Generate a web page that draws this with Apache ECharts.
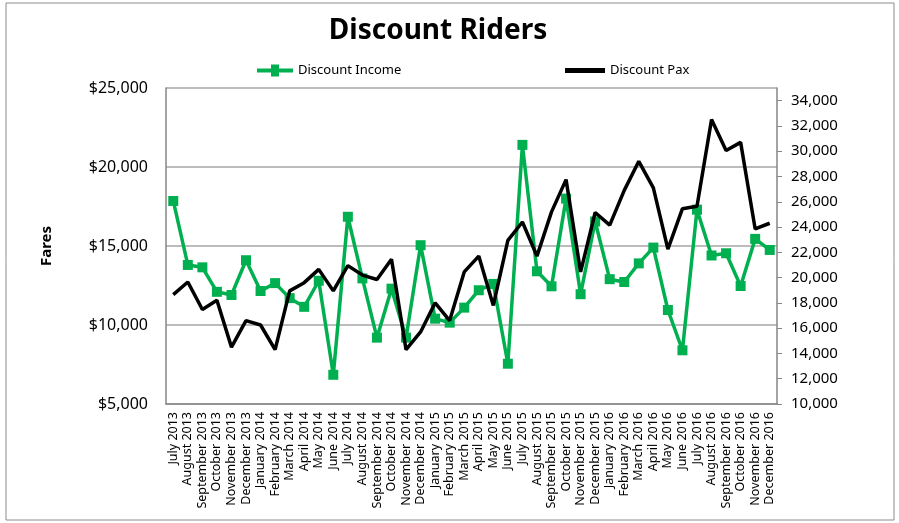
<!DOCTYPE html>
<html>
<head>
<meta charset="utf-8">
<script src="https://cdn.jsdelivr.net/npm/echarts@6/dist/echarts.min.js"></script>
<style>
  html, body { margin: 0; padding: 0; background: #fff; }
  #chart { width: 899px; height: 523px; }
</style>
</head>
<body>
<div id="chart"></div>
<script>
var months = [
    "July 2013", "August 2013", "September 2013", "October 2013", "November 2013", "December 2013",
    "January 2014", "February 2014", "March 2014", "April 2014", "May 2014", "June 2014",
    "July 2014", "August 2014", "September 2014", "October 2014", "November 2014", "December 2014",
    "January 2015", "February 2015", "March 2015", "April 2015", "May 2015", "June 2015",
    "July 2015", "August 2015", "September 2015", "October 2015", "November 2015", "December 2015",
    "January 2016", "February 2016", "March 2016", "April 2016", "May 2016", "June 2016",
    "July 2016", "August 2016", "September 2016", "October 2016", "November 2016", "December 2016"
];

// Discount Income (left axis, $)
var discountIncome = [
    17850, 13800, 13650, 12100, 11900, 14100,
    12150, 12650, 11700, 11150, 12800, 6850,
    16850, 12950, 9200, 12300, 9200, 15050,
    10400, 10150, 11100, 12200, 12600, 7550,
    21400, 13400, 12450, 18000, 11950, 16550,
    12900, 12720, 13900, 14900, 10950, 8400,
    17300, 14400, 14540, 12470, 15450, 14750
];

// Discount Pax (right axis)
var discountPax = [
    18650, 19650, 17480, 18200, 14500, 16600,
    16250, 14300, 18950, 19600, 20650, 18950,
    20950, 20200, 19850, 21450, 14300, 15700,
    18000, 16600, 20450, 21700, 17800, 22950,
    24400, 21700, 25200, 27750, 20450, 25150,
    24150, 26900, 29200, 27100, 22250, 25450,
    25650, 32500, 30050, 30700, 23850, 24300
];

var fareTicks = { min: 5000, max: 25000, interval: 5000 };
var paxTicks = { min: 10000, max: 35000, interval: 2000 };

function commas(v) {
    return String(v).replace(/\B(?=(\d{3})+(?!\d))/g, ",");
}

var font = "Noto Sans";
var chart = echarts.init(document.getElementById("chart"));
chart.setOption({
    animation: false,
    backgroundColor: "#fff",
    textStyle: { fontFamily: font },
    graphic: [{
        type: "rect",
        shape: { x: 6, y: 3, width: 888, height: 517 },
        style: { fill: "none", stroke: "#8c8c8c", lineWidth: 1 },
        silent: true
    }],
    title: {
        text: "Discount Riders",
        left: 433,
        top: 12,
        textAlign: "center",
        textStyle: { fontSize: 28, fontWeight: "bold", color: "#000", fontFamily: font }
    },
    legend: [
        {
            data: [{ name: "Discount Income", icon: "path://M0,4 L14,4 L14,0 L22,0 L22,4 L36,4 L36,8 L22,8 L22,12 L14,12 L14,8 L0,8 Z" }],
            left: 252, top: 59,
            itemWidth: 36, itemHeight: 12, itemGap: 4,
            textStyle: { fontSize: 13, color: "#000", fontFamily: font }
        },
        {
            data: [{ name: "Discount Pax", icon: "path://M0,0 L40,0 L40,5 L0,5 Z" }],
            left: 560, top: 59,
            itemWidth: 40, itemHeight: 5,
            textStyle: { fontSize: 13, color: "#000", fontFamily: font }
        }
    ],
    grid: { left: 166, right: 122, top: 88, bottom: 119 },
    xAxis: {
        type: "category",
        data: months,
        boundaryGap: true,
        axisLine: { lineStyle: { color: "#868686", width: 1.5 } },
        axisTick: { show: false },
        axisLabel: { rotate: 90, interval: 0, fontSize: 12.5, color: "#000", margin: 8, fontFamily: font }
    },
    yAxis: [
        {
            type: "value",
            min: fareTicks.min, max: fareTicks.max, interval: fareTicks.interval,
            name: "Fares",
            nameLocation: "middle",
            nameGap: 112,
            nameRotate: 90,
            nameTextStyle: { fontSize: 15, fontWeight: "bold", color: "#000", fontFamily: font },
            axisLine: { show: true, lineStyle: { color: "#868686", width: 1.5 } },
            axisTick: { show: false },
            axisLabel: {
                fontSize: 16, color: "#000", margin: 18, fontFamily: font,
                formatter: function (v) { return "$" + commas(v); }
            },
            splitLine: { lineStyle: { color: "#a6a6a6", width: 1.5 } }
        },
        {
            type: "value",
            position: "right",
            min: paxTicks.min, max: paxTicks.max, interval: paxTicks.interval,
            axisLine: { show: true, lineStyle: { color: "#868686", width: 1.5 } },
            axisTick: { show: true, inside: false, length: 5, lineStyle: { color: "#868686" } },
            axisLabel: {
                fontSize: 15, color: "#000", margin: 14, fontFamily: font, showMaxLabel: false,
                formatter: function (v) { return commas(v); }
            },
            splitLine: { show: false }
        }
    ],
    series: [
        {
            name: "Discount Income",
            type: "line",
            yAxisIndex: 0,
            data: discountIncome,
            symbol: "rect",
            symbolSize: 10,
            lineStyle: { color: "#00B050", width: 3.5 },
            itemStyle: { color: "#00B050" },
            z: 2
        },
        {
            name: "Discount Pax",
            type: "line",
            yAxisIndex: 1,
            data: discountPax,
            symbol: "none",
            lineStyle: { color: "#000", width: 3.5 },
            itemStyle: { color: "#000" },
            z: 3
        }
    ]
});
</script>
</body>
</html>
